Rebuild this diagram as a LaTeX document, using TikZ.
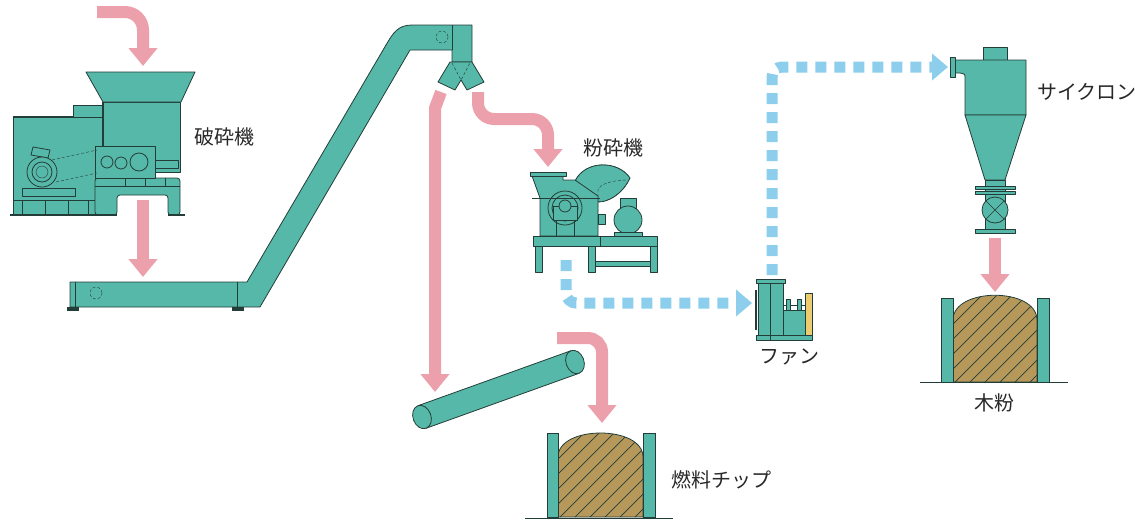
\documentclass[tikz,border=0pt]{standalone}
\usepackage{fontspec}
\newfontfamily\jpfont{Noto Sans CJK JP}
\usepackage{tikz}
\usetikzlibrary{arrows.meta}
\definecolor{machine}{RGB}{86,184,168}
\definecolor{edge}{RGB}{35,62,56}
\definecolor{flowpink}{RGB}{236,160,172}
\definecolor{airblue}{RGB}{140,206,236}
\definecolor{chipbrown}{RGB}{182,152,90}
\definecolor{guard}{RGB}{236,204,110}
\definecolor{labeltext}{RGB}{40,40,40}
\begin{document}
\begin{tikzpicture}[x=1pt,y=-1pt,
		unit/.style={fill=machine,draw=edge,line width=0.8pt,line join=round},
		flow/.style={draw=flowpink,line width=12pt,-{Triangle[width=28pt,length=18pt]}},
		air/.style={draw=airblue,line width=11pt,dash pattern=on 11pt off 8pt,rounded corners=10pt,-{Triangle[width=26pt,length=16pt]}},
		label/.style={font=\jpfont\fontsize{20}{20}\selectfont,text=labeltext,inner sep=0pt},
		wall/.style={fill=machine,draw=edge,line width=0.7pt},
		chip/.style={fill=chipbrown,draw=edge,line width=0.8pt},
		hatch/.style={draw=edge,line width=0.7pt}]
			\useasboundingbox (0,0) rectangle (1135,520);
			\coordinate (feed) at (97,12);
			\coordinate (crusherin) at (143,66);
			\coordinate (crusherout) at (143,200);
			\coordinate (conveyorin) at (143,277);
			\coordinate (splitl) at (441,92);
			\coordinate (splitlbend) at (435,108);
			\coordinate (rollerin) at (435,392);
			\coordinate (splitr) at (478,92);
			\coordinate (millbend) at (548,119);
			\coordinate (millin) at (548,167);
			\coordinate (millout) at (566,260);
			\coordinate (fanin) at (752,303);
			\coordinate (fanout) at (772,275);
			\coordinate (cyclonein) at (948,67);
			\coordinate (cycloneout) at (995,238);
			\coordinate (powderin) at (995,292);
			\coordinate (rollerout) at (557,338);
			\coordinate (chipin) at (602,423);
			\draw[unit] (13,117) rectangle (103,215);
			\draw[unit] (73,105) rectangle (103,117);
			\draw[unit] (103,102) rectangle (180,172);
			\draw[unit] (86,72) -- (195,72) -- (181,102) -- (103,102) -- cycle;
			\draw[edge,line width=1.6pt] (13,117) -- (73,117);
			\draw[edge,line width=1.6pt] (103,102) -- (103,178);
			\draw[unit,rounded corners=3pt] (95,178) -- (180,178) -- (180,215) -- (168,215) -- (168,195) -- (117,195) -- (117,215) -- (95,215) -- cycle;
			\draw[edge] (95,186) -- (180,186);
			\draw[edge] (125,178) -- (125,186) (145,178) -- (145,186) (165,178) -- (165,186);
			\draw[unit] (155,160) rectangle (178,168);
			\draw[unit] (95,146) rectangle (155,178);
			\draw[unit] (107,162) circle (6pt);
			\draw[unit] (121,163) circle (6pt);
			\draw[unit] (139,162) circle (9pt);
			\draw[edge] (13,200) -- (95,200);
			\draw[edge] (22,200) -- (22,215) (45,200) -- (45,215) (68,200) -- (68,215) (88,200) -- (88,215);
			\draw[unit] (22,188) rectangle (75,196);
			\draw[unit] (33,147) -- (50,150) -- (48,158) -- (31,155) -- cycle;
			\draw[unit] (42,172) circle (15pt);
			\draw[unit] (42,172) circle (10pt);
			\draw[edge] (42,172) circle (6pt);
			\draw[edge,densely dashed] (52,160) -- (97,150) (56,182) -- (97,173);
			\draw[edge,line width=1.6pt] (10,215) -- (117,215) (168,215) -- (185,215);
			\node[label] (crusher) at (224,137) {破砕機};
			\draw[unit] (70,282) -- (247,282) -- (386,45) .. controls (393,33) and (398,25) .. (412,25) -- (472,25) -- (472,62) -- (452,62) -- (452,50) -- (410,50) -- (260,307) -- (70,307) -- cycle;
			\draw[edge] (75,282) -- (75,307) (237,282) -- (237,307) (452,25) -- (452,50);
			\draw[edge,densely dashed] (96,293) circle (6pt);
			\draw[edge,densely dashed] (442,37) circle (6pt);
			\fill[edge] (67,307) rectangle (79,311);
			\fill[edge] (232,307) rectangle (244,311);
			\draw[unit] (450,62) -- (472,62) -- (484,82) -- (467,90) -- (461,80) -- (455,90) -- (438,82) -- cycle;
			\draw[edge,densely dashed] (452,63) -- (461,80) -- (470,63);
			\draw[unit] (575,181) .. controls (585,160) and (618,160) .. (630,178) .. controls (622,195) and (608,202) .. (598,202) -- cycle;
			\draw[edge,densely dashed] (575,181) .. controls (585,160) and (618,160) .. (630,178) .. controls (622,195) and (608,202) .. (598,202);
			\draw[edge,densely dashed] (598,212) -- (598,190) .. controls (600,184) and (612,180) .. (628,180);
			\draw[unit] (532,176) -- (563,176) -- (563,180) -- (575,180) -- (598,196) -- (598,236) -- (540,236) -- (540,198) -- cycle;
			\draw[unit] (530,172) rectangle (566,176);
			\draw[unit] (565,208) circle (17pt);
			\draw[unit] (565,208) circle (13pt);
			\draw[unit] (553,206) rectangle (577,220);
			\draw[unit] (565,206) circle (6pt);
			\draw[edge] (556,220) -- (556,236) (574,220) -- (574,236);
			\draw[edge] (532,198) -- (600,198);
			\draw[unit] (533,236) rectangle (657,246);
			\draw[edge] (600,236) -- (600,246);
			\draw[unit] (535,246) rectangle (542,272);
			\draw[unit] (588,246) rectangle (595,272);
			\draw[unit] (650,246) rectangle (657,272);
			\draw[unit] (595,261) rectangle (650,266);
			\draw[unit] (620,198) rectangle (636,208);
			\draw[unit] (628,220) circle (14pt);
			\draw[unit] (614,232) rectangle (642,236);
			\draw[unit] (598,214) rectangle (605,224);
			\node[label] (mill) at (613,148) {粉砕機};
			\draw[unit] (758,283) rectangle (783,335);
			\draw[unit] (756,279) rectangle (785,283);
			\draw[edge,line width=1.8pt] (756,290) -- (756,330);
			\draw[unit] (783,310) rectangle (805,335);
			\draw[edge] (783,305) -- (806,305);
			\draw[unit] (786,299) rectangle (790,310);
			\draw[unit] (797,299) rectangle (801,310);
			\draw[fill=guard,draw=edge,line width=0.6pt] (805,293) rectangle (812,335);
			\draw[unit] (756,335) rectangle (812,340);
			\draw[edge] (770,283) -- (770,340);
			\node[label] (fan) at (789,357) {ファン};
			\draw[unit] (983,47) rectangle (1007,60);
			\draw[unit] (955,60) -- (1026,60) -- (1026,115) -- (965,115) -- (965,78) .. controls (965,74) .. (960,73) -- (955,73) -- cycle;
			\draw[unit] (950,57) rectangle (955,77);
			\draw[unit] (965,115) -- (1026,115) -- (1005,180) -- (985,180) -- cycle;
			\draw[unit] (985,180) rectangle (1005,230);
			\draw[unit] (975,186) rectangle (1015,189);
			\draw[unit] (975,191) rectangle (1015,194);
			\draw[unit] (995,210) circle (13pt);
			\draw[edge] (986,201) -- (1004,219) (1004,201) -- (986,219);
			\draw[unit] (975,229) rectangle (1015,233);
			\node[label,anchor=west] (cyclone) at (1037,92) {サイクロン};
			\draw[unit] (418,405.7) -- (571,350.7) -- (579,373.3) -- (426,428.3) -- cycle;
			\draw[unit,rotate around={20:(422,417)}] (422,417) ellipse (9pt and 12pt);
			\draw[unit,rotate around={20:(575,362)}] (575,362) ellipse (9pt and 12pt);
			\draw[chip] (558,517) -- (558,457) .. controls (558,425) and (643,425) .. (643,457) -- (643,517) -- cycle;
			\begin{scope}
				\clip (558,517) -- (558,457) .. controls (558,425) and (643,425) .. (643,457) -- (643,517) -- cycle;
				\foreach \k in {0,...,13}
					\draw[hatch] (470+\k*15,517) -- ++(110,-110);
			\end{scope}
			\draw[wall] (547,433) rectangle (558,517);
			\draw[wall] (643,433) rectangle (655,517);
			\draw[edge] (525,518) -- (673,518);
			\node[label,anchor=west] (chips) at (671,480) {燃料チップ};
			\draw[chip] (953,382) -- (953,320) .. controls (953,287) and (1037,287) .. (1037,320) -- (1037,382) -- cycle;
			\begin{scope}
				\clip (953,382) -- (953,320) .. controls (953,287) and (1037,287) .. (1037,320) -- (1037,382) -- cycle;
				\foreach \k in {0,...,13}
					\draw[hatch] (865+\k*15,382) -- ++(110,-110);
			\end{scope}
			\draw[wall] (941,298) rectangle (953,382);
			\draw[wall] (1037,298) rectangle (1049,382);
			\draw[edge] (920,382) -- (1068,382);
			\node[label] (powder) at (994,403) {木粉};
			\draw[flow,rounded corners=18pt] (feed) -| (crusherin);
			\draw[flow] (crusherout) -- (conveyorin);
			\draw[flow] (splitl) -- (splitlbend) -- (rollerin);
			\draw[flow,rounded corners=16pt] (splitr) |- (millbend) -- (millin);
			\draw[flow] (cycloneout) -- (powderin);
			\draw[flow,rounded corners=14pt] (rollerout) -| (chipin);
			\draw[air] (millout) |- (fanin);
			\draw[air] (fanout) |- (cyclonein);
		\end{tikzpicture}
\end{document}
